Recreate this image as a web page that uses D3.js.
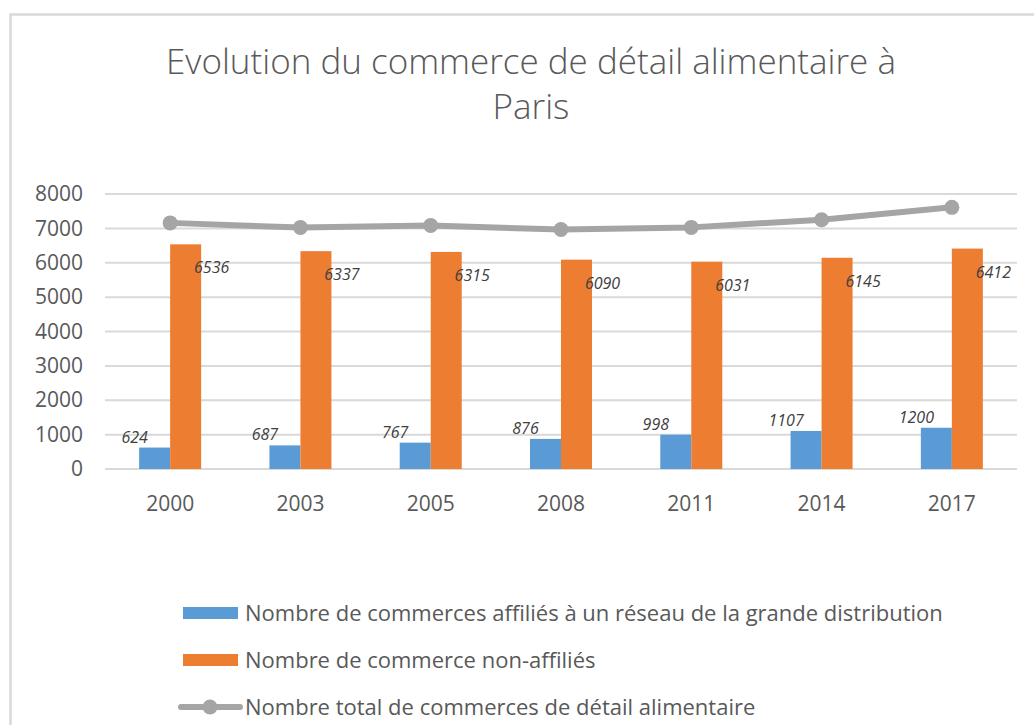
<!DOCTYPE html>
<html>
<head>
<meta charset="utf-8">
<script src="https://cdn.jsdelivr.net/npm/d3@7"></script>
<style>
  html, body { margin: 0; padding: 0; background: #fff; }
  svg { display: block; }
</style>
</head>
<body>
<div id="chart"></div>
<script>
/* Evolution du commerce de détail alimentaire à Paris
   Clustered bars (affiliés / non-affiliés) + total line with markers. */

const YEARS      = ["2000", "2003", "2005", "2008", "2011", "2014", "2017"];
const AFFILIES   = [624, 687, 767, 876, 998, 1107, 1200];
const NON_AFFIL  = [6536, 6337, 6315, 6090, 6031, 6145, 6412];
const TOTAL      = [7160, 7024, 7082, 6966, 7029, 7252, 7612];
const Y_TICKS    = [0, 1000, 2000, 3000, 4000, 5000, 6000, 7000, 8000];

const TITLE_LINES = ["Evolution du commerce de détail alimentaire à", "Paris"];
const LEGEND_LABELS = [
  "Nombre de commerces affiliés à un réseau de la grande distribution",
  "Nombre de commerce non-affiliés",
  "Nombre total de commerces de détail alimentaire"
];

const BLUE   = "#5b9bd5";
const ORANGE = "#ed7d31";
const GREY   = "#a5a5a5";
const TEXT   = "#595959";
const FONT   = "'Open Sans', 'DejaVu Sans', sans-serif";

function drawChart() {
  const W = 1034, H = 725;

  const svg = d3.select("#chart").append("svg")
    .attr("width", W).attr("height", H)
    .style("font-family", FONT);

  // chart frame (runs off the right and bottom edges, like the screenshot)
  svg.append("rect")
    .attr("x", 10.5).attr("y", 14.5)
    .attr("width", 1040).attr("height", 740)
    .attr("fill", "#fff").attr("stroke", "#d9d9d9").attr("stroke-width", 2.5);

  // title
  svg.append("g").selectAll("text")
    .data(TITLE_LINES)
    .join("text")
    .attr("x", 531).attr("y", (d, i) => 74 + i * 45)
    .attr("text-anchor", "middle")
    .attr("font-size", 35).attr("font-weight", 300)
    .attr("fill", TEXT)
    .text(d => d);

  // scales
  const x0 = d3.scaleBand().domain(YEARS).range([105, 1017]).padding(0);
  const groupW = 62;
  const x1 = d3.scaleBand().domain([0, 1]).range([0, groupW]);
  const y = d3.scaleLinear().domain([0, 8000]).range([469, 194]);

  // horizontal gridlines
  svg.append("g")
    .selectAll("line")
    .data(Y_TICKS)
    .join("line")
    .attr("x1", 105).attr("x2", 1017)
    .attr("y1", d => y(d)).attr("y2", d => y(d))
    .attr("stroke", "#d9d9d9").attr("stroke-width", 2);

  // y axis labels
  svg.append("g")
    .attr("transform", "translate(83,0)")
    .call(d3.axisLeft(y).tickValues(Y_TICKS).tickFormat(d3.format("d")).tickSize(0).tickPadding(0))
    .call(g => g.select(".domain").remove())
    .call(g => g.selectAll("text")
      .attr("fill", TEXT).attr("font-size", 21).attr("font-family", FONT));

  // x axis labels
  svg.append("g")
    .attr("transform", "translate(0,469)")
    .call(d3.axisBottom(x0).tickSize(0).tickPadding(0))
    .call(g => g.select(".domain").remove())
    .call(g => g.selectAll("text")
      .attr("fill", TEXT).attr("font-size", 21).attr("font-family", FONT)
      .attr("dy", 0).attr("y", 42));

  // bars
  const rows = YEARS.map((yr, i) => ({ year: yr, vals: [AFFILIES[i], NON_AFFIL[i]] }));
  const groups = svg.append("g").selectAll("g")
    .data(rows)
    .join("g")
    .attr("transform", d => `translate(${x0(d.year) + (x0.bandwidth() - groupW) / 2},0)`);

  groups.selectAll("rect")
    .data(d => d.vals)
    .join("rect")
    .attr("x", (d, i) => x1(i))
    .attr("width", x1.bandwidth())
    .attr("y", d => y(d))
    .attr("height", d => y(0) - y(d))
    .attr("fill", (d, i) => i === 0 ? BLUE : ORANGE);

  // data labels: blue ones up-left of the bar, orange ones down-right of the top
  groups.selectAll("text.lbl")
    .data(d => d.vals)
    .join("text")
    .attr("class", "lbl")
    .attr("x", (d, i) => x1(i) + x1.bandwidth() / 2 + (i === 0 ? -20 : 26))
    .attr("y", (d, i) => y(d) + (i === 0 ? -5 : 29))
    .attr("text-anchor", "middle")
    .attr("font-size", 16).attr("font-style", "italic")
    .attr("fill", "#404040")
    .text(d => d);

  // total line + markers
  const cx = d => x0(d.year) + x0.bandwidth() / 2;
  const pts = YEARS.map((yr, i) => ({ year: yr, v: TOTAL[i] }));

  svg.append("path")
    .datum(pts)
    .attr("d", d3.line().x(cx).y(d => y(d.v)))
    .attr("fill", "none").attr("stroke", GREY)
    .attr("stroke-width", 6).attr("stroke-linejoin", "round");

  svg.append("g").selectAll("circle")
    .data(pts)
    .join("circle")
    .attr("cx", cx).attr("cy", d => y(d.v))
    .attr("r", 7.5).attr("fill", GREY);

  // legend
  const leg = svg.append("g").selectAll("g")
    .data(LEGEND_LABELS)
    .join("g")
    .attr("transform", (d, i) => `translate(0,${613 + i * 47})`);

  leg.filter((d, i) => i < 2).append("rect")
    .attr("x", 183).attr("y", -6).attr("width", 55).attr("height", 12)
    .attr("fill", (d, i) => i === 0 ? BLUE : ORANGE);

  const lineLeg = leg.filter((d, i) => i === 2);
  lineLeg.append("line")
    .attr("x1", 181).attr("x2", 240).attr("y1", 0).attr("y2", 0)
    .attr("stroke", GREY).attr("stroke-width", 6).attr("stroke-linecap", "round");
  lineLeg.append("circle")
    .attr("cx", 210).attr("cy", 0).attr("r", 7.5).attr("fill", GREY);

  leg.append("text")
    .attr("x", 245).attr("y", 0).attr("dy", "0.35em")
    .attr("font-size", 22).attr("fill", TEXT)
    .text(d => d);
}

drawChart();
</script>
</body>
</html>
